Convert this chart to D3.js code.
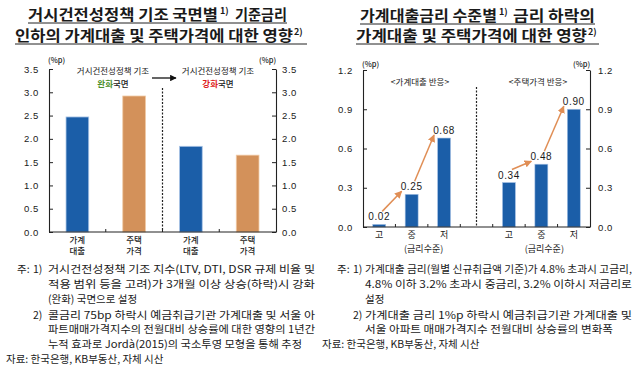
<!DOCTYPE html>
<html>
<head>
<meta charset="utf-8">
<script src="https://cdn.jsdelivr.net/npm/d3@7"></script>
<style>
  body { margin: 0; background: #fff; }
  svg { display: block; }
  text { font-family: "Noto Sans CJK KR", "Noto Sans", sans-serif; fill: #1a1a1a; }
  .num { font-family: "Liberation Sans", Arial, sans-serif; }
</style>
</head>
<body>
<svg id="chart" width="633" height="374"></svg>
<script>
// ---- data ----
const leftCats = ['가계대출', '주택가격', '가계대출', '주택가격'];
const leftLabels = [['가계', '대출'], ['주택', '가격'], ['가계', '대출'], ['주택', '가격']];
const leftSeries = ['loan', 'house', 'loan', 'house'];
const leftValues = [2.47, 2.92, 1.84, 1.65];
const leftTicks = [0, 0.5, 1.0, 1.5, 2.0, 2.5, 3.0, 3.5];

const rateLevels = ['고', '중', '저'];
const loanResp = [0.02, 0.25, 0.68];
const houseResp = [0.34, 0.48, 0.90];
const rightTicks = [0, 0.3, 0.6, 0.9, 1.2];

const leftNotes = [
  '거시건전성정책 기조 지수(LTV, DTI, DSR 규제 비율 및',
  '적용 범위 등을 고려)가 3개월 이상 상승(하락)시 강화',
  '(완화) 국면으로 설정',
  '콜금리 75bp 하락시 예금취급기관 가계대출 및 서울 아',
  '파트매매가격지수의 전월대비 상승률에 대한 영향의 1년간',
  '누적 효과로 Jordà(2015)의 국소투영 모형을 통해 추정'
];
const rightNotes = [
  '가계대출 금리(월별 신규취급액 기준)가 4.8% 초과시 고금리,',
  '4.8% 이하 3.2% 초과시 중금리, 3.2% 이하시 저금리로',
  '설정',
  '가계대출 금리 1%p 하락시 예금취급기관 가계대출 및',
  '서울 아파트 매매가격지수 전월대비 상승률의 변화폭'
];
const source = '자료: 한국은행, KB부동산, 자체 시산';

const blue = '#1b5ea8', orange = '#d3915a';

const svg = d3.select('#chart');
const defs = svg.append('defs');
function marker(id, color) {
  defs.append('marker').attr('id', id)
    .attr('viewBox', '0 0 10 10').attr('refX', 9).attr('refY', 5)
    .attr('markerWidth', 5).attr('markerHeight', 5).attr('orient', 'auto')
    .append('path').attr('d', 'M0,0L10,5L0,10Z').attr('fill', color);
}
marker('arrO', '#e08e55');
marker('arrK', '#111');

// ---- titles ----
function titleLine(parts, y, uline) {
  const g = svg.append('g');
  parts.forEach(p => {
    const t = g.append('text').attr('x', p.x).attr('y', p.sup ? y - 6 : y)
      .attr('font-size', p.sup ? 9 : 15).attr('font-weight', 700).text(p.t);
    if (p.w) t.attr('textLength', p.w).attr('lengthAdjust', 'spacingAndGlyphs');
  });
  g.append('line').attr('x1', uline[0]).attr('x2', uline[1])
    .attr('y1', y + 3).attr('y2', y + 3).attr('stroke', '#222').attr('stroke-width', 1);
}
titleLine([{t: '거시건전성정책 기조 국면별', x: 28, w: 190}, {t: '1)', x: 220, sup: true},
           {t: '기준금리', x: 235, w: 52}], 20, [28, 287]);
titleLine([{t: '인하의 가계대출 및 주택가격에 대한 영향', x: 15, w: 278}, {t: '2)', x: 294, sup: true}], 41, [15, 307]);
titleLine([{t: '가계대출금리 수준별', x: 360, w: 137}, {t: '1)', x: 499, sup: true},
           {t: '금리 하락의', x: 513, w: 82}], 21, [360, 595]);
titleLine([{t: '가계대출 및 주택가격에 대한 영향', x: 356, w: 231}, {t: '2)', x: 588, sup: true}], 41, [356, 599]);

// ---- left chart ----
const xL = d3.scaleBand().domain(d3.range(leftCats.length)).range([49, 276]);
const yL = d3.scaleLinear().domain([0, 3.5]).range([232, 69]);
const gL = svg.append('g');

gL.selectAll('rect.bar').data(leftValues).enter().append('rect')
  .attr('x', (d, i) => xL(i) + xL.bandwidth() * 0.3)
  .attr('width', xL.bandwidth() * 0.4)
  .attr('y', d => yL(d)).attr('height', d => yL(0) - yL(d))
  .attr('fill', (d, i) => leftSeries[i] === 'loan' ? blue : orange)
  .attr('stroke', (d, i) => leftSeries[i] === 'loan' ? '#a9c4e6' : '#f0c9a4')
  .attr('stroke-width', 0.8);

function styleAxis(g) {
  g.select('.domain').attr('stroke', '#222').attr('stroke-width', 1.1);
  g.selectAll('.tick line').attr('stroke', '#222');
  g.selectAll('.tick text').attr('class', 'num').attr('font-size', 9.5).attr('fill', '#222')
    .attr('letter-spacing', 0.6);
}
gL.append('g').attr('transform', 'translate(49,0)')
  .call(d3.axisLeft(yL).tickValues(leftTicks).tickFormat(d3.format('.1f')).tickSizeInner(-4).tickSizeOuter(0).tickPadding(10))
  .call(styleAxis);
gL.append('g').attr('transform', 'translate(276,0)')
  .call(d3.axisRight(yL).tickValues(leftTicks).tickFormat(d3.format('.1f')).tickSizeInner(-4).tickSizeOuter(0).tickPadding(6))
  .call(styleAxis);
gL.append('line').attr('x1', 49).attr('x2', 276).attr('y1', yL(0)).attr('y2', yL(0))
  .attr('stroke', '#222').attr('stroke-width', 1.1);
gL.selectAll('line.xt').data(d3.range(1, leftCats.length)).enter().append('line')
  .attr('x1', i => xL(i)).attr('x2', i => xL(i)).attr('y1', yL(0)).attr('y2', yL(0) - 3)
  .attr('stroke', '#222');

// two-line category labels, one text element per line
leftLabels.forEach((lab, i) => {
  lab.forEach((s, k) => gL.append('text')
    .attr('x', xL(i) + xL.bandwidth() / 2).attr('y', 243 + k * 10.5)
    .attr('text-anchor', 'middle').attr('font-size', 8.5).attr('font-weight', 500).text(s));
});

gL.append('text').attr('x', 48).attr('y', 63).attr('font-size', 7.5).attr('font-weight', 500).text('(%p)');
gL.append('text').attr('x', 259).attr('y', 63).attr('font-size', 7.5).attr('font-weight', 500).text('(%p)');

// divider
gL.append('line').attr('x1', xL(2)).attr('x2', xL(2)).attr('y1', 88).attr('y2', yL(0))
  .attr('stroke', '#222').attr('stroke-width', 1.2).attr('stroke-dasharray', '2,1.5');

// regime annotations
const regimes = [{x: 113, c: '완화', col: '#4e8f2b'}, {x: 218, c: '강화', col: '#e01b1b'}];
regimes.forEach(r => {
  gL.append('text').attr('x', r.x).attr('y', 74).attr('text-anchor', 'middle')
    .attr('font-size', 8.5).text('거시건전성정책 기조');
  const t = gL.append('text').attr('x', r.x).attr('y', 86.5).attr('text-anchor', 'middle')
    .attr('font-size', 8.5).attr('font-weight', 500);
  t.append('tspan').attr('fill', r.col).attr('font-weight', 700).text(r.c);
  t.append('tspan').text('국면');
});
gL.append('line').attr('x1', 152).attr('x2', 176).attr('y1', 78).attr('y2', 78)
  .attr('stroke', '#111').attr('stroke-width', 1.3).attr('marker-end', 'url(#arrK)');

// ---- right chart ----
const rKeys = rateLevels.map(d => 'L' + d).concat(['gap']).concat(rateLevels.map(d => 'H' + d));
const rVals = loanResp.concat([null]).concat(houseResp);
const xR = d3.scaleBand().domain(rKeys).range([363, 590]);
const yR = d3.scaleLinear().domain([0, 1.2]).range([227, 70]);
const gR = svg.append('g');
const rData = rKeys.map((k, i) => ({k, v: rVals[i], lab: k === 'gap' ? '' : k.slice(1)}));
const rBars = rData.filter(d => d.v !== null);
const cx = k => xR(k) + xR.bandwidth() / 2;

gR.selectAll('rect.bar').data(rBars).enter().append('rect')
  .attr('x', d => xR(d.k) + xR.bandwidth() * 0.3)
  .attr('width', xR.bandwidth() * 0.4)
  .attr('y', d => yR(d.v)).attr('height', d => yR(0) - yR(d.v))
  .attr('fill', blue).attr('stroke', '#a9c4e6').attr('stroke-width', 0.6);

gR.append('g').attr('transform', 'translate(363,0)')
  .call(d3.axisLeft(yR).tickValues(rightTicks).tickFormat(d3.format('.1f')).tickSizeInner(-4).tickSizeOuter(0).tickPadding(10))
  .call(styleAxis);
gR.append('g').attr('transform', 'translate(590,0)')
  .call(d3.axisRight(yR).tickValues(rightTicks).tickFormat(d3.format('.1f')).tickSizeInner(-4).tickSizeOuter(0).tickPadding(8))
  .call(styleAxis);
gR.append('line').attr('x1', 363).attr('x2', 590).attr('y1', yR(0)).attr('y2', yR(0))
  .attr('stroke', '#222').attr('stroke-width', 1.1);
gR.selectAll('line.xt').data(rKeys.slice(1)).enter().append('line')
  .attr('x1', k => xR(k)).attr('x2', k => xR(k)).attr('y1', yR(0)).attr('y2', yR(0) - 3)
  .attr('stroke', '#222');

gR.selectAll('text.val').data(rBars).enter().append('text')
  .attr('class', 'num').attr('x', d => cx(d.k)).attr('y', d => yR(d.v) - 4)
  .attr('text-anchor', 'middle').attr('font-size', 10).attr('letter-spacing', 0.6)
  .text(d => d3.format('.2f')(d.v));

gR.selectAll('text.xl').data(rBars).enter().append('text')
  .attr('x', d => cx(d.k)).attr('y', 238).attr('text-anchor', 'middle')
  .attr('font-size', 9).text(d => d.lab);
gR.append('text').attr('x', cx('L중') + 12).attr('y', 252).attr('text-anchor', 'middle')
  .attr('font-size', 9).text('(금리수준)');
gR.append('text').attr('x', cx('H중') + 3).attr('y', 252).attr('text-anchor', 'middle')
  .attr('font-size', 9).text('(금리수준)');

gR.append('text').attr('x', 362).attr('y', 67).attr('font-size', 7.5).attr('font-weight', 500).text('(%p)');
gR.append('text').attr('x', 573).attr('y', 67).attr('font-size', 7.5).attr('font-weight', 500).text('(%p)');

gR.append('line').attr('x1', cx('gap')).attr('x2', cx('gap')).attr('y1', 87).attr('y2', yR(0))
  .attr('stroke', '#222').attr('stroke-width', 1.2).attr('stroke-dasharray', '2,1.5');

gR.append('text').attr('x', 420).attr('y', 85).attr('text-anchor', 'middle')
  .attr('font-size', 8.5).text('<가계대출 반응>');
gR.append('text').attr('x', 538).attr('y', 85).attr('text-anchor', 'middle')
  .attr('font-size', 8.5).text('<주택가격 반응>');

// orange arrows from each label to the next
[['L', loanResp], ['H', houseResp]].forEach(([p, vals]) => {
  for (let i = 0; i < vals.length - 1; i++) {
    const a = p + rateLevels[i], b = p + rateLevels[i + 1];
    gR.append('line')
      .attr('x1', cx(a) + 3).attr('y1', yR(vals[i]) - 13)
      .attr('x2', cx(b) - 10).attr('y2', yR(vals[i + 1]) - 3)
      .attr('stroke', '#e08e55').attr('stroke-width', 1.5).attr('marker-end', 'url(#arrO)');
  }
});

// ---- footnotes ----
function notes(g, o, lines, justify) {
  const ys = [269, 284, 299, 315, 329, 344];
  g.append('text').attr('x', o.zu).attr('y', ys[0] + 4).attr('font-size', 10.5).text('주:');
  g.append('text').attr('x', o.num).attr('y', ys[0] + 4).attr('font-size', 10.5).text('1)');
  g.append('text').attr('x', o.num).attr('y', ys[3] + 4).attr('font-size', 10.5).text('2)');
  lines.forEach((s, i) => {
    const t = g.append('text').attr('x', o.body).attr('y', ys[i] + 4).attr('font-size', 10.5).text(s);
    if (justify[i]) t.attr('textLength', justify[i] - o.body).attr('lengthAdjust', 'spacingAndGlyphs');
  });
}
notes(svg.append('g'), {zu: 17, num: 33, body: 48}, leftNotes, [315, 315, 0, 315, 315, 302]);
notes(svg.append('g'), {zu: 337, num: 353, body: 365}, rightNotes, [632, 632, 0, 632, 613]);
svg.append('text').attr('x', 6).attr('y', 363).attr('font-size', 10.5).text(source);
svg.append('text').attr('x', 322).attr('y', 348).attr('font-size', 10.5).text(source);
</script>
</body>
</html>
